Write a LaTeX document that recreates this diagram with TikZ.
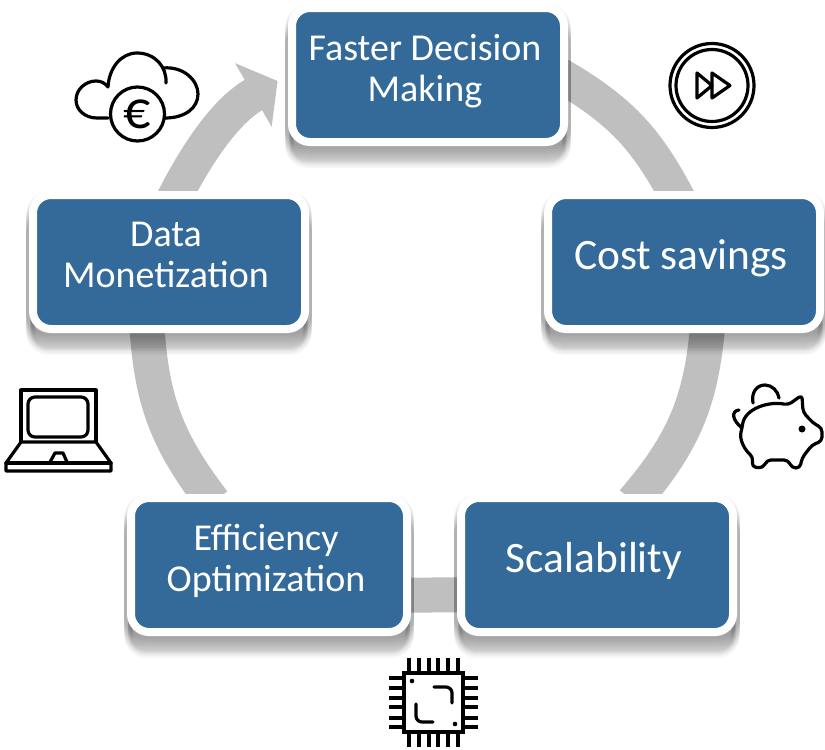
\documentclass[tikz,border=0pt]{standalone}
\usepackage{fontspec}
\setmainfont{Carlito}
\usetikzlibrary{arrows.meta,shadows,backgrounds}
\definecolor{boxblue}{HTML}{346A99}
\definecolor{ringgray}{HTML}{BFBFBF}
\newcommand{\padline}{\kern3pt}
\newcommand{\pad}{\kern3pt\rule[-7.5pt]{0pt}{0pt}}
\begin{document}
\begin{tikzpicture}[x=0.5pt,y=-0.5pt,
		softshadow/.style={general shadow={shadow yshift=#1,shadow scale=1.02,fill=black,draw=black,opacity=.035}},
		casebox/.style={line width=4pt,draw=white,fill=boxblue,rounded corners=9pt,minimum width=136pt,minimum height=67pt,inner sep=0pt,text=white,align=center,softshadow/.list={-10pt,-9pt,-8pt,-7pt,-6pt,-5pt,-4pt,-3pt,-2pt,-1pt}},
		bigtext/.style={font=\fontsize{21.7}{24}\selectfont},
		smalltext/.style={font=\fontsize{19}{20.5}\selectfont},
		ringline/.style={line width=17.5pt,draw=ringgray,shorten <=-5pt,shorten >=-5pt},
		icon/.style={line width=1.6pt,line join=round,line cap=round},
		pin/.style={line width=2pt}]
	\useasboundingbox (0,0) rectangle (825,750);
	% the five cases
	\node[casebox,smalltext] (faster) at (428,75) {Faster Decision\padline\\Making\pad};
	\node[casebox,bigtext] (cost) at (684,262) {Cost savings\pad};
	\node[casebox,bigtext] (scalability) at (597,565) {Scalability\pad};
	\node[casebox,minimum width=138pt,smalltext] (efficiency) at (269,565) {Efficiency\padline\\Optimization\pad};
	\node[casebox,smalltext] (data) at (169,262) {Data\padline\\Monetization\pad};
	% ring behind the boxes
	\begin{scope}[on background layer]
		\draw[ringline] (faster.-2.5) to[bend left=16] (cost.98.6);
		\draw[ringline] (cost.-72.4) to[bend left=18] (scalability.59.2);
		\draw[ringline] (scalability.192.8) -- (efficiency.-12.6);
		\draw[ringline] (efficiency.131.6) to[bend left=17] (data.253);
		\draw[ringline,shorten >=6pt,-{Triangle[length=14pt,width=36pt]}] (data.83) to[bend left=16.5] (faster.west);
	\end{scope}
	% cloud
	\draw[icon] (108,118) -- (97,118) .. controls (85,118) and (76,110) .. (76,100) .. controls (76,89) and (86,81) .. (96,81) .. controls (101,81) and (105,83) .. (108,87);
	\draw[icon] (108,87) .. controls (109,68) and (121,53) .. (137,53) .. controls (155,53) and (167,67) .. (166,83);
	\draw[icon] (163,68) .. controls (183,66) and (198,80) .. (198,94) .. controls (198,108) and (185,118) .. (165,118);
	\draw[icon] (137.5,114) circle[radius=27];
	\node[font=\fontsize{27}{27}\selectfont] (euro) at (137,114) {€};
	% fast forward
	\draw[icon] (712,85.5) circle[radius=42] (712,85.5) circle[radius=36];
	\draw[icon] (697,73) -- (712,85.5) -- (697,98) -- cycle;
	\draw[icon] (712,73) -- (730,85.5) -- (712,98) -- cycle;
	% piggy bank
	\draw[icon] (753,403) .. controls (751,392) and (757,385) .. (765,385) .. controls (772,385) and (778,391) .. (779,398);
	\draw[icon] (739,410) .. controls (731,411) and (732,420) .. (742,428);
	\draw[icon,rounded corners=2pt] (788,405) .. controls (770,401) and (745,408) .. (742,428) .. controls (739,440) and (745,450) .. (753,457) -- (752,467) -- (763,468) -- (767,460) -- (788,460) -- (792,468) -- (800,468) -- (802,458) -- (812,445) -- (822,441) -- (822,428) -- (813,423) -- (803,412) -- (802,395) -- cycle;
	\fill (802,429) circle[radius=3.5];
	% laptop
	\draw[icon,line cap=butt] (21,442) -- (21,390) -- (96,390) -- (96,442);
	\draw[icon,rounded corners=3.5pt] (28,397) rectangle (88,437);
	\draw[icon] (21,442) -- (6,463) -- (6,471) -- (111,471) -- (111,463) -- (96,442) -- cycle;
	\draw[icon] (6,463) -- (111,463);
	\draw[icon] (50,462) -- (55,453) -- (63,453) -- (67,462);
	% chip
	\draw[line width=2pt] (404,673) rectangle (463,732);
	\foreach \x in {409,419,429,438,448,458}{
		\draw[pin] (\x,658)--(\x,673) (\x,732)--(\x,747);
	}
	\foreach \y in {678,688,698,707,718,727}{
		\draw[pin] (389,\y)--(404,\y) (463,\y)--(478,\y);
	}
	\fill (412,681) circle[radius=2.3] (455,724) circle[radius=2.3];
	\draw[icon,rounded corners=3pt] (434,687) -- (452,687) -- (452,703);
	\draw[icon,rounded corners=3pt] (416,704) -- (416,722) -- (433,722);
\end{tikzpicture}
\end{document}
